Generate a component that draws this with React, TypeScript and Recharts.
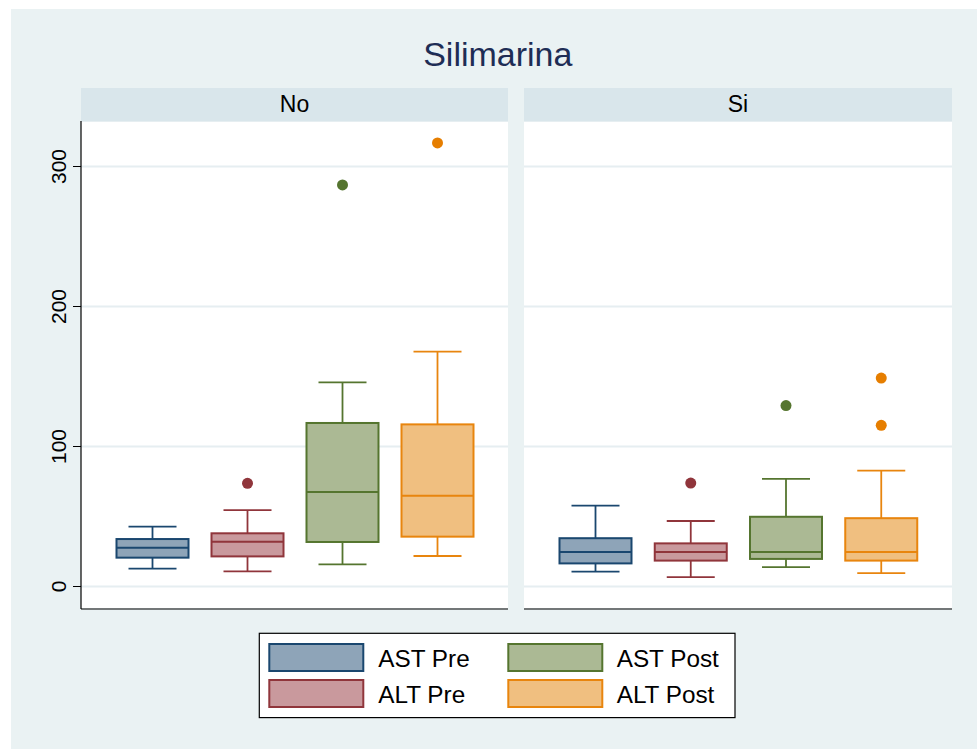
import React from 'react';
import { ComposedChart, Bar, XAxis, YAxis, CartesianGrid } from 'recharts';

const categories = ['AST Pre', 'ALT Pre', 'AST Post', 'ALT Post'];
const panelLabels = ['No', 'Si'];
const yTicks = [0, 100, 200, 300];
const chartTitle = 'Silimarina';

// Panel "No"
const noMin = [12.7, 10.8, 15.8, 21.8];
const noQ1 = [20.6, 21.5, 31.8, 35.6];
const noMed = [27.7, 32.0, 67.5, 64.9];
const noQ3 = [33.9, 38.0, 116.8, 115.8];
const noMax = [42.7, 54.6, 145.8, 167.7];
const noOutliers: number[][] = [[], [73.7], [286.8], [316.8]];

// Panel "Si"
const siMin = [10.6, 6.7, 13.8, 9.6];
const siQ1 = [16.5, 18.5, 19.7, 18.5];
const siMed = [24.6, 24.6, 24.6, 24.6];
const siQ3 = [34.5, 30.8, 49.8, 48.8];
const siMax = [57.7, 46.8, 76.9, 82.8];
const siOutliers: number[][] = [[], [73.9], [129.2], [148.9, 115.1]];

const lineColors = ['#1a476f', '#90353b', '#55752f', '#e8850e'];
const fillColors = ['#8ea4b8', '#c9999d', '#abb994', '#f0bf80'];
const outlierColors = ['#1a476f', '#90353b', '#55752f', '#e67e00'];

const FONT = '"Liberation Sans", Arial, Helvetica, sans-serif';
const Y_DOMAIN: [number, number] = [-16.07, 332.5];

function buildData(mn: number[], q1: number[], med: number[], q3: number[], mx: number[], outs: number[][]) {
  return categories.map((c, i) => ({
    cat: c,
    idx: i,
    whisk: [mn[i], mx[i]],
    q1: q1[i],
    med: med[i],
    q3: q3[i],
    outliers: outs[i],
  }));
}

const noData = buildData(noMin, noQ1, noMed, noQ3, noMax, noOutliers);
const siData = buildData(siMin, siQ1, siMed, siQ3, siMax, siOutliers);

const BoxShape = (props: any) => {
  const { x, y, width, height, payload } = props;
  if (!payload) return null;
  const [lo, hi] = payload.whisk;
  const top = Math.min(y, y + height);
  const bot = Math.max(y, y + height);
  const k = (bot - top) / (hi - lo);
  const py = (v: number) => bot - (v - lo) * k;
  const i = payload.idx;
  const lc = lineColors[i];
  const fc = fillColors[i];
  const cx = x + width / 2;
  const capW = width * (2 / 3);
  const yq1 = py(payload.q1);
  const yq3 = py(payload.q3);
  const ymed = py(payload.med);
  const ylo = py(lo);
  const yhi = py(hi);
  return (
    <g>
      <line x1={cx} x2={cx} y1={yhi} y2={yq3} stroke={lc} strokeWidth={1.8} />
      <line x1={cx} x2={cx} y1={yq1} y2={ylo} stroke={lc} strokeWidth={1.8} />
      <line x1={cx - capW / 2} x2={cx + capW / 2} y1={yhi} y2={yhi} stroke={lc} strokeWidth={1.8} />
      <line x1={cx - capW / 2} x2={cx + capW / 2} y1={ylo} y2={ylo} stroke={lc} strokeWidth={1.8} />
      <rect x={x} y={yq3} width={width} height={yq1 - yq3} fill={fc} stroke={lc} strokeWidth={2} />
      <line x1={x} x2={x + width} y1={ymed} y2={ymed} stroke={lc} strokeWidth={2} />
      {payload.outliers.map((o: number, j: number) => (
        <circle key={j} cx={cx} cy={py(o)} r={5.5} fill={outlierColors[i]} />
      ))}
    </g>
  );
};

const YTick = (props: any) => {
  const { x, y, payload } = props;
  const tx = x - 5;
  return (
    <text
      x={tx}
      y={y}
      transform={`rotate(-90 ${tx} ${y})`}
      textAnchor="middle"
      fontFamily={FONT}
      fontSize={21}
      fill="#000"
    >
      {payload.value}
    </text>
  );
};

function Panel({ data, showY, width }: { data: any[]; showY: boolean; width: number }) {
  return (
    <ComposedChart
      width={width}
      height={489}
      data={data}
      margin={{ top: 0, right: 0, bottom: 0, left: 0 }}
      barSize={72}
    >
      <CartesianGrid
        horizontal={true}
        vertical={false}
        stroke="#e6eef1"
        strokeWidth={1.8}
        fill="#ffffff"
        fillOpacity={1}
      />
      <XAxis
        dataKey="cat"
        type="category"
        padding={{ left: 23.5, right: 23.5 }}
        tick={false}
        tickLine={false}
        height={1}
        axisLine={{ stroke: '#000', strokeWidth: 1.2 }}
      />
      <YAxis
        type="number"
        domain={Y_DOMAIN}
        ticks={yTicks}
        allowDataOverflow={true}
        hide={!showY}
        width={70}
        tickSize={8}
        tickLine={{ stroke: '#000', strokeWidth: 1 }}
        axisLine={{ stroke: '#000', strokeWidth: 1.2 }}
        tick={<YTick />}
      />
      <Bar dataKey="whisk" shape={<BoxShape />} isAnimationActive={false} />
    </ComposedChart>
  );
}

const legendItems = [
  { label: categories[0], idx: 0, col: 0, row: 0 },
  { label: categories[1], idx: 1, col: 0, row: 1 },
  { label: categories[2], idx: 2, col: 1, row: 0 },
  { label: categories[3], idx: 3, col: 1, row: 1 },
];

export default function App() {
  const colSwatchX = [258.3, 497.3];
  const colTextX = [367.3, 605.7];
  const rowSwatchY = [635, 671];
  const rowTextY = [657.7, 694.3];
  return (
    <div
      style={{
        position: 'absolute',
        left: 11,
        top: 9,
        width: 966,
        height: 740,
        background: '#eaf2f3',
        overflow: 'hidden',
      }}
    >
      <svg width={966} height={740} style={{ position: 'absolute', left: 0, top: 0 }}>
        <text x={486.8} y={56.5} textAnchor="middle" fontFamily={FONT} fontSize={34} fill="#1e2d55">
          {chartTitle}
        </text>
        <rect x={70} y={79} width={427} height={33} fill="#d9e6eb" />
        <rect x={513} y={79} width={428} height={33} fill="#d9e6eb" />
        <text x={283.5} y={102.7} textAnchor="middle" fontFamily={FONT} fontSize={23} fill="#000">
          {panelLabels[0]}
        </text>
        <text x={727} y={102.7} textAnchor="middle" fontFamily={FONT} fontSize={23} fill="#000">
          {panelLabels[1]}
        </text>
        <rect x={248.3} y={624.3} width={475.7} height={84.3} fill="#fff" stroke="#000" strokeWidth={1.2} />
        {legendItems.map((it) => (
          <g key={it.label}>
            <rect
              x={colSwatchX[it.col]}
              y={rowSwatchY[it.row]}
              width={94}
              height={27}
              fill={fillColors[it.idx]}
              stroke={lineColors[it.idx]}
              strokeWidth={2}
            />
            <text x={colTextX[it.col]} y={rowTextY[it.row]} fontFamily={FONT} fontSize={24.3} fill="#000">
              {it.label}
            </text>
          </g>
        ))}
      </svg>
      <div style={{ position: 'absolute', left: 0, top: 112 }}>
        <Panel data={noData} showY={true} width={497} />
      </div>
      <div style={{ position: 'absolute', left: 513, top: 112 }}>
        <Panel data={siData} showY={false} width={428} />
      </div>
    </div>
  );
}
